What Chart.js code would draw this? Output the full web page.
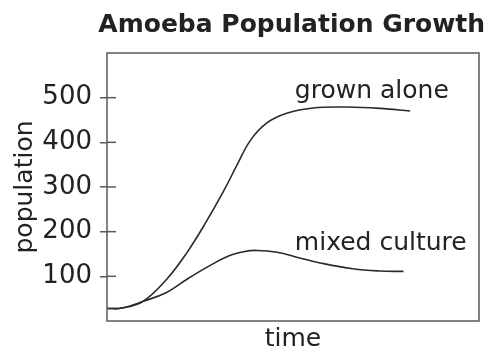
<!DOCTYPE html>
<html>
<head>
<meta charset="utf-8">
<script src="https://cdn.jsdelivr.net/npm/chart.js@4"></script>
<style>
  html, body { margin: 0; padding: 0; background: #fff; }
  #wrap { width: 489px; height: 352px; }
</style>
</head>
<body>
<div id="wrap"><canvas id="amoebaChart"></canvas></div>
<script>
// time axis runs 0..100 (arbitrary units), population
const timeAlone = [0, 4, 9.7, 16, 21.4, 26.8, 31.3, 35, 38.6, 42.9, 48.3, 55.4, 64.4, 73.4, 81.5];
const popAlone  = [28, 29, 44, 93, 152, 224, 290, 350, 405, 443, 465, 477, 479, 476, 470];

const timeMixed = [0, 4, 9.7, 16, 21.4, 26.8, 32.2, 36.7, 40.3, 45.7, 51.8, 57.3, 66.1, 73.4, 79.7];
const popMixed  = [28, 29, 44, 64, 93, 120, 144, 155, 158, 154, 141, 130, 117, 112, 111];

const yTicks = [100, 200, 300, 400, 500];

const curveLabels = [
  { text: 'grown alone', x: 50.5, y: 500 },
  { text: 'mixed culture', x: 50.5, y: 160 }
];

const INK = '#222';
const FRAME = '#5a5a5a';
const FONT = "'DejaVu Sans', sans-serif";

function toPoints(xs, ys) {
  return xs.map((x, i) => ({ x: x, y: ys[i] }));
}

// box around the plot, inner half of the y tick marks, curve names
const framePlugin = {
  id: 'frame',
  afterDatasetsDraw(chart) {
    const { ctx, chartArea: a, scales } = chart;
    ctx.save();
    ctx.strokeStyle = FRAME;
    ctx.lineWidth = 1.5;
    ctx.strokeRect(a.left, a.top, a.right - a.left, a.bottom - a.top);
    yTicks.forEach(v => {
      const py = scales.y.getPixelForValue(v);
      ctx.beginPath();
      ctx.moveTo(a.left, py);
      ctx.lineTo(a.left + 9, py);
      ctx.stroke();
    });
    ctx.fillStyle = INK;
    ctx.font = '25px ' + FONT;
    ctx.textAlign = 'left';
    ctx.textBaseline = 'alphabetic';
    curveLabels.forEach(l => {
      ctx.fillText(l.text, scales.x.getPixelForValue(l.x), scales.y.getPixelForValue(l.y));
    });
    ctx.restore();
  }
};

const lineStyle = {
  borderColor: '#2a2a2a',
  borderWidth: 1.6,
  pointRadius: 0,
  fill: false,
  tension: 0.4
};

new Chart(document.getElementById('amoebaChart'), {
  type: 'line',
  data: {
    datasets: [
      Object.assign({ label: 'grown alone', data: toPoints(timeAlone, popAlone) }, lineStyle),
      Object.assign({ label: 'mixed culture', data: toPoints(timeMixed, popMixed) }, lineStyle)
    ]
  },
  options: {
    responsive: true,
    maintainAspectRatio: false,
    animation: false,
    layout: { padding: { left: 4, right: 4, top: 0, bottom: 0 } },
    plugins: {
      legend: { display: false },
      tooltip: { enabled: false },
      title: {
        display: true,
        text: 'Amoeba Population Growth',
        align: 'end',
        color: INK,
        font: { family: FONT, size: 25, weight: 'bold', lineHeight: 1.2 },
        padding: { top: 10, bottom: 13 }
      }
    },
    scales: {
      x: {
        type: 'linear',
        min: 0,
        max: 100,
        ticks: { display: false },
        grid: { display: false },
        border: { display: false },
        title: {
          display: true,
          text: 'time',
          color: INK,
          font: { family: FONT, size: 25, lineHeight: 1 },
          padding: 0
        },
        afterFit(scale) { scale.height = 31; }
      },
      y: {
        min: 0,
        max: 600,
        afterBuildTicks(scale) {
          scale.ticks = yTicks.map(v => ({ value: v }));
        },
        ticks: {
          color: INK,
          padding: 8,
          font: { family: FONT, size: 26 }
        },
        grid: {
          drawOnChartArea: false,
          drawTicks: true,
          tickLength: 7,
          color: FRAME,
          lineWidth: 1.5
        },
        border: { display: false },
        title: {
          display: true,
          text: 'population',
          color: INK,
          font: { family: FONT, size: 25, lineHeight: 1.2 },
          padding: { top: 6, bottom: 0 }
        },
        afterFit(scale) { scale.width = 103; }
      },
      y2: {
        position: 'right',
        display: true,
        ticks: { display: false },
        grid: { display: false },
        border: { display: false },
        afterFit(scale) { scale.width = 6; }
      }
    }
  },
  plugins: [framePlugin]
});
</script>
</body>
</html>
